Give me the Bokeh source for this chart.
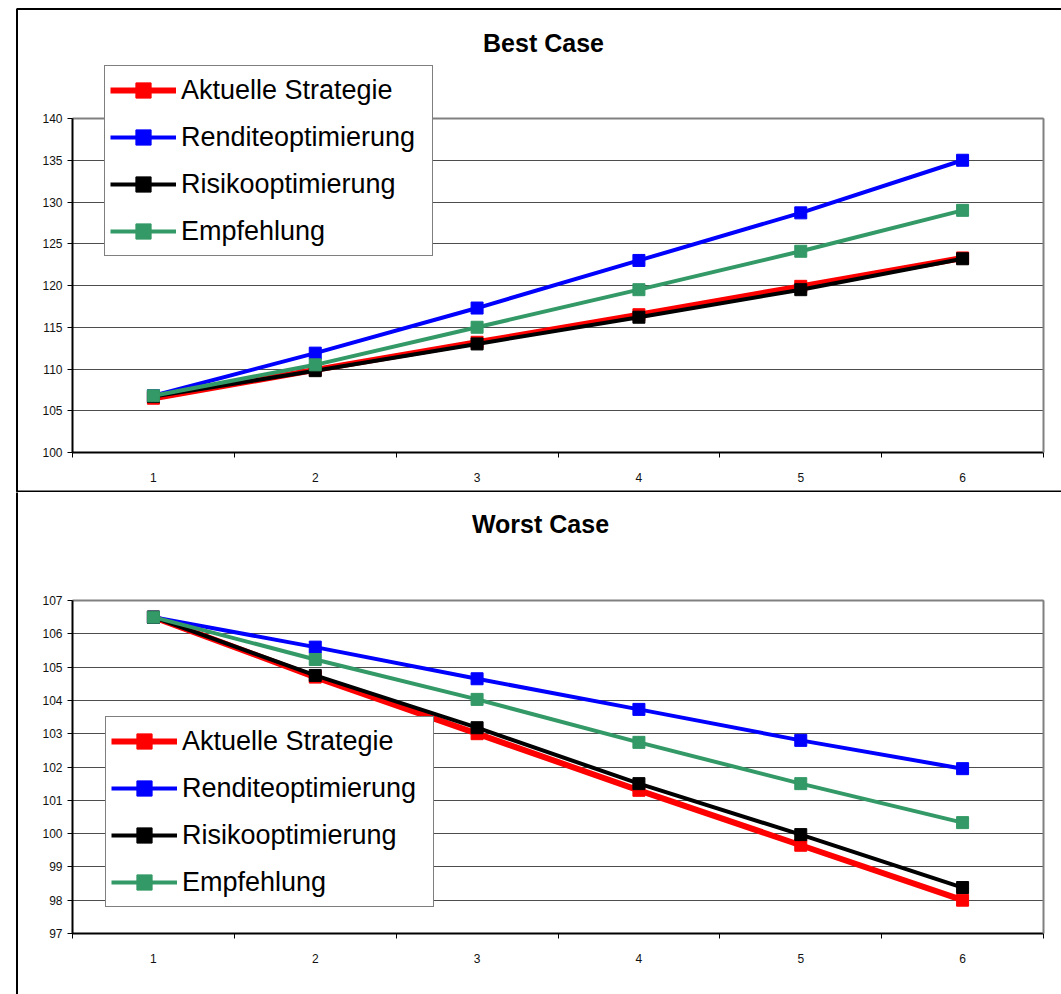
from bokeh.plotting import figure
from bokeh.models import Range1d, FixedTicker, Legend, LegendItem, BoxAnnotation, Label, LinearAxis
from bokeh.layouts import column
from bokeh.embed import file_html
from bokeh.resources import INLINE

# ---------------- data ----------------
periods = [1, 2, 3, 4, 5, 6]
series_names = ["Aktuelle Strategie", "Renditeoptimierung", "Risikooptimierung", "Empfehlung"]
series_colors = ["#FF0000", "#0000FF", "#000000", "#339966"]
series_widths = [6, 4, 4, 4]

best_aktuell = [106.5, 109.9, 113.2, 116.5, 119.9, 123.3]
best_rendite = [106.8, 111.9, 117.3, 123.0, 128.7, 135.0]
best_risiko = [106.7, 109.8, 113.0, 116.2, 119.5, 123.2]
best_empfehlung = [106.8, 110.5, 115.0, 119.5, 124.1, 129.0]

worst_aktuell = [106.5, 104.7, 103.0, 101.3, 99.65, 98.0]
worst_rendite = [106.5, 105.6, 104.65, 103.73, 102.8, 101.95]
worst_risiko = [106.5, 104.75, 103.18, 101.5, 99.97, 98.38]
worst_empfehlung = [106.5, 105.23, 104.03, 102.74, 101.5, 100.33]

best_yticks = [100, 105, 110, 115, 120, 125, 130, 135, 140]
worst_yticks = [97, 98, 99, 100, 101, 102, 103, 104, 105, 106, 107]
category_bounds = [0.5, 1.5, 2.5, 3.5, 4.5, 5.5, 6.5]

FONT = "Liberation Sans"
W = 1061
PLOT_LEFT, PLOT_RIGHT = 72, 1043  # pixel extent of the inner plot area


def make_panel(title, series, yticks, height, plot_top, plot_bottom,
               legend_loc, title_xy, border_box):
    x0, x1 = category_bounds[0], category_bounds[-1]
    sx = (PLOT_RIGHT - PLOT_LEFT) / (x1 - x0)
    x_start = x0 - PLOT_LEFT / sx
    x_end = x1 + (W - PLOT_RIGHT) / sx
    y0, y1 = yticks[0], yticks[-1]
    sy = (plot_bottom - plot_top) / (y1 - y0)
    y_end = y1 + plot_top / sy
    y_start = y0 - (height - plot_bottom) / sy

    def px_x(px):
        return x_start + px / sx

    def px_y(py):
        return y_end - py / sy

    p = figure(width=W, height=height, output_backend="svg", toolbar_location=None,
               title=None,
               x_range=Range1d(x_start, x_end), y_range=Range1d(y_start, y_end),
               min_border=0, min_border_left=0, min_border_right=0,
               min_border_top=0, min_border_bottom=0)
    p.background_fill_color = "white"
    p.border_fill_color = "white"
    p.outline_line_color = None

    # y axis inside the panel
    ya = p.yaxis[0]
    ya.fixed_location = x0
    ya.bounds = (y0, y1)
    ya.ticker = FixedTicker(ticks=yticks)
    ya.major_tick_in = 0
    ya.major_tick_out = 5
    ya.minor_tick_out = 0
    ya.minor_tick_in = 0
    ya.axis_line_width = 2
    ya.axis_line_color = "black"
    ya.major_tick_line_color = "black"
    ya.major_tick_line_width = 1
    ya.major_label_text_font = FONT
    ya.major_label_text_font_size = "12px"
    ya.major_label_text_color = "#111111"
    ya.major_label_standoff = 5

    # x axis: labels at categories, ticks at category boundaries
    xa = p.xaxis[0]
    xa.fixed_location = y0
    xa.bounds = (x0, x1)
    xa.ticker = FixedTicker(ticks=periods, minor_ticks=category_bounds)
    xa.major_tick_in = 0
    xa.major_tick_out = 0
    xa.minor_tick_in = 0
    xa.minor_tick_out = 5
    xa.minor_tick_line_color = "black"
    xa.minor_tick_line_width = 1
    xa.axis_line_width = 2
    xa.axis_line_color = "black"
    xa.major_label_text_font = FONT
    xa.major_label_text_font_size = "12px"
    xa.major_label_text_color = "#111111"
    xa.major_label_standoff = 15

    # gray plot-area border on the right and top
    ra = LinearAxis(fixed_location=x1, bounds=(y0, y1), ticker=FixedTicker(ticks=[]),
                    axis_line_color="#808080", axis_line_width=2,
                    major_tick_line_color=None, minor_tick_line_color=None,
                    major_label_text_font_size="0px")
    p.add_layout(ra, "right")
    ta = LinearAxis(fixed_location=y1, bounds=(x0, x1), ticker=FixedTicker(ticks=[]),
                    axis_line_color="#808080", axis_line_width=2,
                    major_tick_line_color=None, minor_tick_line_color=None,
                    major_label_text_font_size="0px")
    p.add_layout(ta, "above")

    p.xgrid.visible = False
    p.ygrid.ticker = FixedTicker(ticks=yticks)
    p.ygrid.grid_line_color = "#4d4d4d"
    p.ygrid.grid_line_width = 1
    p.ygrid.bounds = (y0, y1)
    p.ygrid.cross_bounds = (x0, x1)

    renderers = {}
    for i in range(4):
        ys = series[i]
        lr = p.line(periods, ys, line_color=series_colors[i], line_width=series_widths[i])
        sr = p.scatter(periods, ys, marker="square", size=12,
                       fill_color=series_colors[i], line_color=series_colors[i])
        renderers[i] = [lr, sr]
    items = [LegendItem(label=series_names[i], renderers=renderers[i]) for i in range(4)]

    legend = Legend(items=items, location=legend_loc)
    legend.label_text_font = FONT
    legend.label_text_font_size = "27px"
    legend.label_text_color = "black"
    legend.label_height = 38
    legend.label_width = 246
    legend.glyph_height = 38
    legend.glyph_width = 66
    legend.spacing = 9
    legend.padding = 5
    legend.margin = 0
    legend.label_standoff = 5
    legend.border_line_color = "black"
    legend.border_line_width = 1
    legend.background_fill_color = "white"
    legend.background_fill_alpha = 1
    p.add_layout(legend)

    # chart title
    p.add_layout(Label(x=px_x(title_xy[0]), y=px_y(title_xy[1]), text=title,
                       text_font=FONT, text_font_size="25px", text_font_style="bold",
                       text_color="black", text_align="center", text_baseline="middle"))

    # outer chart border (left, top, bottom edges; right edge lies off the page)
    bl, bt, bb = border_box
    p.add_layout(BoxAnnotation(left=px_x(bl), right=px_x(W + 40),
                               top=px_y(bt), bottom=px_y(bb),
                               fill_alpha=0, fill_color=None,
                               line_color="black", line_width=2, line_alpha=1))
    return p


p_best = make_panel("Best Case",
                    [best_aktuell, best_rendite, best_risiko, best_empfehlung],
                    best_yticks, 492, 118, 452, (104, 236), (543, 42), (16.5, 8.5, 491))
p_worst = make_panel("Worst Case",
                     [worst_aktuell, worst_rendite, worst_risiko, worst_empfehlung],
                     worst_yticks, 502, 108, 441, (105, 87), (540, 31), (16.5, -40, 560))

layout = column(p_best, p_worst, spacing=0)
open("out.html", "w").write(file_html(layout, INLINE))
